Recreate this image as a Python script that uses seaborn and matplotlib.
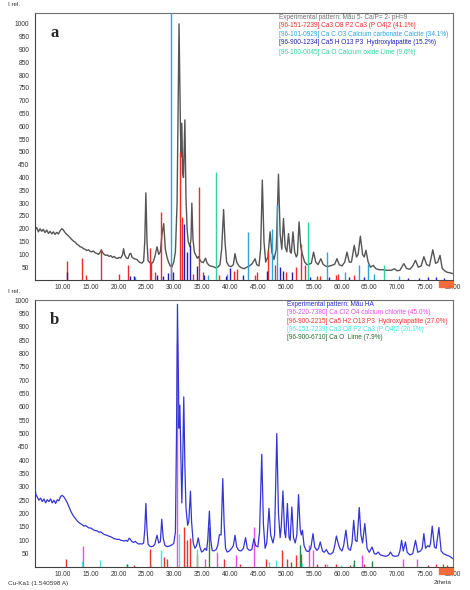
import numpy as np
import pandas as pd
import seaborn as sns
import matplotlib.pyplot as plt
from matplotlib.patches import Rectangle

# ---- panel a : experimental pattern (Mau 5) ----
tt_a = [5.0, 5.3, 5.6, 5.9, 6.2, 6.5, 6.8, 7.1, 7.4, 7.7, 8.0, 8.3, 8.6, 8.9, 9.2, 9.5, 9.8, 10.1, 10.4, 10.7,
        11.0, 11.3, 11.6, 11.9, 12.2, 12.5, 12.8, 13.1, 13.4, 13.7, 14.0, 14.3, 14.6, 14.9, 15.2, 15.5, 15.8, 16.1,
        16.4, 16.7, 16.9, 17.1, 17.4, 17.7, 18.0, 18.3, 18.6, 18.9, 19.2, 19.5, 19.8, 20.1, 20.4, 20.7, 20.9, 21.1,
        21.4, 21.7, 22.0, 22.2, 22.4, 22.7, 23.0, 23.3, 23.6, 23.9, 24.2, 24.5, 24.7, 24.9, 25.1, 25.3, 25.6, 25.9,
        26.2, 26.5, 26.9, 27.2, 27.5, 27.8, 28.1, 28.4, 28.7, 29.0, 29.3, 29.6, 29.9, 30.2, 30.5, 30.7, 30.85, 31.0,
        31.1, 31.2, 31.35, 31.5, 31.65, 31.9, 32.1, 32.3, 32.5, 32.8, 33.0, 33.15, 33.35, 33.6, 33.9, 34.1, 34.35,
        34.6, 34.9, 35.2, 35.6, 35.9, 36.2, 36.6, 37.0, 37.4, 37.8, 38.2, 38.5, 38.85, 39.1, 39.4, 39.8, 40.2, 40.6,
        40.9, 41.2, 41.6, 42.0, 42.5, 43.0, 43.5, 43.9, 44.3, 44.5, 44.8, 45.2, 45.5, 45.8, 46.1, 46.4, 46.8, 47.2,
        47.5, 47.9, 48.3, 48.7, 49.0, 49.3, 49.6, 49.9, 50.2, 50.5, 50.8, 51.0, 51.3, 51.6, 51.9, 52.1, 52.4, 52.7,
        53.0, 53.4, 53.8, 54.2, 54.6, 55.0, 55.4, 55.8, 56.3, 56.7, 57.1, 57.5, 57.9, 58.4, 58.8, 59.2, 59.6, 60.1,
        60.6, 61.0, 61.4, 61.8, 62.3, 62.7, 63.0, 63.4, 63.8, 64.1, 64.4, 64.8, 65.2, 65.7, 66.2, 66.8, 67.5, 68.2,
        69.0, 69.5, 70.0, 70.5, 71.2, 71.7, 72.3, 72.8, 73.3, 73.8, 74.3, 74.8, 75.3, 75.8, 76.4, 76.9, 77.3, 77.7,
        78.1, 78.6, 79.0, 79.5, 80.0]
int_a = [195, 205, 188, 200, 190, 198, 185, 195, 182, 190, 180, 188, 178, 186, 180, 192, 200, 195, 185, 178,
         172, 165, 158, 152, 148, 140, 136, 130, 128, 122, 120, 115, 118, 112, 110, 113, 106, 104,
         100, 108, 118, 108, 100, 96, 98, 92, 95, 88, 92, 86, 84, 88, 86, 98, 122, 98,
         86, 84, 102, 104, 90, 84, 82, 80, 72, 68, 66, 74, 150, 340, 150, 75, 68, 64,
         70, 90, 130, 100, 110, 180, 220, 120, 88, 68, 54, 52, 70, 110, 300, 700, 1000, 760,
         600, 480, 612, 420, 400, 625, 320, 200, 150, 130, 160, 300, 160, 110, 95, 85, 92,
         78, 70, 68, 85, 66, 58, 54, 52, 48, 50, 60, 120, 275, 150, 70, 55, 52, 60,
         103, 70, 55, 48, 44, 50, 55, 62, 75, 83, 60, 55, 120, 390, 150, 70, 90, 188,
         110, 80, 120, 413, 180, 120, 240, 130, 110, 181, 110, 105, 188, 110, 90, 100, 227, 130,
         100, 70, 60, 62, 65, 109, 70, 60, 83, 62, 55, 52, 55, 58, 62, 83, 60, 55,
         70, 109, 70, 70, 135, 90, 100, 171, 100, 90, 116, 70, 50, 57, 44, 40, 40, 38,
         38, 44, 36, 38, 64, 45, 42, 55, 77, 50, 55, 91, 60, 55, 118, 65, 70, 96,
         45, 35, 30, 28, 25]

# panel a reference sticks
red_a_pos = [10.8, 13.5, 14.1, 16.9, 20.1, 21.7, 25.6, 25.9, 26.5, 27.7, 29.4, 31.0, 31.3, 33.4, 34.4, 35.1,
             38.0, 40.8, 41.2, 44.5, 44.8, 46.9, 48.0, 50.0, 51.9, 52.8, 53.4, 55.6, 56.2, 59.1, 59.4, 62.2]
red_a_int = [73, 86, 20, 116, 23, 57, 125, 72, 33, 266, 61, 500, 246, 25, 363, 31,
             20, 36, 44, 20, 31, 116, 57, 30, 50, 142, 57, 15, 15, 20, 25, 20]
cyan_a_pos = [23.0, 29.4, 36.0, 39.4, 43.3, 47.6, 48.5, 57.5, 60.7, 63.1, 64.7, 65.9, 70.3]
cyan_a_int = [12, 1045, 20, 25, 188, 198, 292, 109, 31, 57, 64, 25, 15]
blue_a_pos = [10.8, 22.0, 22.7, 26.9, 28.0, 28.9, 29.7, 31.75, 32.2, 32.9, 34.0, 35.4, 39.2, 40.0, 42.4,
              46.7, 48.9, 49.6, 51.2, 54.4, 57.8, 61.4, 64.0, 72.0, 74.0, 75.5, 77.0, 78.5]
blue_a_int = [31, 14, 14, 20, 14, 27, 30, 220, 110, 135, 55, 18, 14, 46, 20,
              36, 49, 36, 30, 12, 10, 10, 10, 8, 8, 10, 10, 8]
teal_a_pos = [37.4, 54.0, 67.6]
teal_a_int = [422, 227, 57]

# ---- panel b : experimental pattern (Mau HA) ----
tt_b = [5.0, 5.15, 5.4, 5.7, 6.0, 6.3, 6.6, 6.9, 7.2, 7.5, 7.8, 8.1, 8.4, 8.7, 9.0, 9.3, 9.6, 9.9, 10.2, 10.5,
        10.8, 11.1, 11.4, 11.7, 12.0, 12.3, 12.6, 12.9, 13.2, 13.5, 13.8, 14.1, 14.4, 14.7, 15.0, 15.3, 15.6, 15.9,
        16.2, 16.5, 16.8, 17.1, 17.4, 17.7, 18.0, 18.3, 18.6, 18.9, 19.2, 19.5, 19.8, 20.1, 20.4, 20.7, 21.0, 21.3,
        21.6, 21.9, 22.1, 22.4, 22.7, 23.0, 23.3, 23.6, 23.9, 24.2, 24.5, 24.7, 24.9, 25.1, 25.3, 25.6, 25.9, 26.2,
        26.5, 26.9, 27.2, 27.5, 27.75, 28.0, 28.3, 28.7, 29.1, 29.5, 29.9, 30.2, 30.4, 30.57, 30.75, 30.85, 31.0,
        31.2, 31.35, 31.5, 31.7, 31.9, 32.1, 32.4, 32.6, 32.9, 33.1, 33.4, 33.7, 34.0, 34.3, 34.6, 34.9, 35.2, 35.5,
        35.8, 36.0, 36.3, 36.55, 36.8, 37.1, 37.5, 37.8, 38.1, 38.4, 38.7, 38.95, 39.2, 39.5, 39.9, 40.3, 40.6,
        40.9, 41.2, 41.6, 42.0, 42.4, 42.8, 43.1, 43.5, 43.9, 44.3, 44.6, 45.0, 45.3, 45.7, 46.0, 46.3, 46.6, 47.0,
        47.3, 47.7, 48.0, 48.4, 48.7, 49.0, 49.2, 49.5, 49.8, 50.0, 50.3, 50.6, 50.8, 51.1, 51.4, 51.7, 52.0, 52.3,
        52.6, 52.8, 53.0, 53.3, 53.7, 54.1, 54.5, 54.9, 55.2, 55.6, 55.9, 56.2, 56.6, 56.9, 57.3, 57.7, 58.1, 58.5,
        58.8, 59.1, 59.4, 59.7, 60.1, 60.4, 60.8, 61.2, 61.6, 61.9, 62.2, 62.5, 62.8, 63.2, 63.5, 63.8, 64.2, 64.6,
        65.0, 65.5, 65.9, 66.2, 66.6, 67.0, 67.5, 68.0, 68.5, 68.8, 69.2, 69.7, 70.2, 70.5, 70.8, 71.1, 71.5, 71.8,
        72.3, 72.8, 73.3, 73.7, 74.2, 74.5, 74.8, 75.1, 75.5, 75.8, 76.0, 76.3, 76.7, 77.0, 77.5, 77.9, 78.3, 78.8,
        79.2, 79.6, 80.0]
int_b = [300, 272, 262, 250, 258, 245, 255, 240, 252, 245, 255, 240, 250, 238, 252, 248, 265, 268, 262, 252,
         240, 225, 210, 198, 188, 180, 172, 166, 162, 158, 153, 155, 150, 146, 146, 142, 138, 136,
         135, 130, 132, 126, 122, 120, 118, 115, 113, 110, 106, 105, 103, 104, 100, 99, 97, 100,
         96, 108, 104, 95, 92, 96, 90, 86, 87, 86, 90, 140, 238, 140, 85, 78, 76, 78,
         85, 119, 90, 95, 179, 110, 82, 76, 78, 82, 88, 130, 500, 984, 700, 520, 606,
         400, 240, 380, 637, 380, 220, 156, 170, 284, 170, 90, 70, 80, 109, 75, 56, 60, 70,
         62, 100, 209, 100, 62, 60, 65, 80, 121, 120, 331, 160, 70, 56, 60, 70, 80,
         119, 75, 62, 60, 70, 110, 70, 62, 65, 106, 80, 75, 130, 422, 160, 70, 90, 220,
         120, 90, 120, 500, 200, 110, 150, 285, 130, 110, 238, 110, 100, 225, 110, 90, 120, 271,
         140, 120, 138, 80, 60, 58, 70, 125, 75, 62, 70, 94, 60, 55, 65, 50, 48, 55,
         80, 116, 90, 70, 60, 80, 138, 70, 62, 90, 175, 100, 95, 223, 120, 90, 163, 70,
         55, 75, 50, 48, 56, 45, 42, 40, 45, 56, 42, 40, 42, 60, 100, 60, 94, 55,
         45, 50, 100, 55, 60, 70, 125, 70, 80, 75, 90, 153, 75, 70, 148, 60, 50, 45,
         42, 38, 31]

# panel b reference sticks
mag_b_pos = [13.7, 30.4, 35.5, 37.6, 41.0, 44.3, 54.1, 54.9, 63.7, 71.1, 73.5]
mag_b_int = [78, 840, 30, 56, 44, 148, 81, 62, 44, 31, 31]
red_b_pos = [10.6, 22.7, 25.6, 28.2, 28.7, 31.8, 32.2, 32.9, 34.1, 39.0, 41.8, 46.5, 49.3, 50.2, 51.9, 52.7,
             55.7, 57.0, 59.0, 61.6, 64.0, 75.5, 77.0, 78.2, 79.0]
red_b_int = [31, 6, 69, 38, 30, 150, 100, 110, 50, 30, 12, 30, 62, 31, 44, 48,
             10, 10, 10, 8, 12, 8, 10, 10, 8]
cyan_b_pos = [13.4, 16.7, 21.6, 25.9, 27.6, 30.8, 34.0, 47.0, 48.2, 53.0, 57.5, 60.0, 62.0]
cyan_b_int = [21, 25, 10, 12, 65, 125, 67, 19, 25, 15, 10, 8, 10]
green_b_pos = [21.6, 36.3, 51.0, 52.5, 62.3, 65.5]
green_b_int = [12, 150, 19, 81, 25, 22]

legend_a = ["Experimental pattern: Mẫu 5- Ca/P= 2- pH=9",
            "[96-151-7239] Ca3 O8 P2 Ca3 (P O4)2 (41.1%)",
            "[96-101-0929] Ca C O3 Calcium carbonate Calcite (34.1%)",
            "[96-900-1234] Ca5 H O13 P3  Hydroxylapatite (15.2%)",
            "[96-100-0045] Ca O Calcium oxide Lime (9.6%)"]
legend_b = ["Experimental pattern: Mẫu HA",
            "[96-220-7380] Ca Cl2 O4 calcium chlorite (45.0%)",
            "[96-900-2215] Ca5 H2 O13 P3  Hydroxylapatite (27.0%)",
            "[96-151-7239] Ca3 O8 P2 Ca3 (P O4)2 (20.1%)",
            "[96-900-6710] Ca O  Lime (7.9%)"]

sns.set_style("white")
plt.rcParams['font.family'] = ['Liberation Sans', 'DejaVu Sans']

fig = plt.figure(figsize=(4.7, 5.9), dpi=100)
ax_a = fig.add_axes([0.0745, 0.5254, 0.889, 0.4525])
ax_b = fig.add_axes([0.0745, 0.0390, 0.889, 0.4525])


def style_axes(ax, ytop):
    ax.set_xlim(5, 80)
    ax.set_ylim(0, ytop)
    ax.set_xticks(np.arange(10, 81, 5))
    ax.set_xticklabels([f"{v:.2f}" for v in np.arange(10, 81, 5)])
    ax.set_yticks(np.arange(50, 1001, 50))
    ax.set_yticklabels([str(v) for v in np.arange(50, 1001, 50)])
    ax.tick_params(axis='both', direction='out', length=2.5, width=0.5,
                   labelsize=4.8, colors='#333333', pad=1.5)
    ax.tick_params(axis='x', length=0, pad=3)
    for s in ax.spines.values():
        s.set_color('#707070')
        s.set_linewidth(0.8)
    ax.spines['left'].set_color('#404040')
    ax.spines['bottom'].set_color('#404040')
    ax.set_xlabel('')
    ax.set_ylabel('')
    ax.text(-0.065, 1.025, "I rel.", transform=ax.transAxes, fontsize=4.5, color='#333333')
    # orange scroll marker below the axis end
    ax.add_patch(Rectangle((77.6, -0.028), 2.5, 0.024, transform=ax.get_xaxis_transform(),
                           color='#f26b3a', clip_on=False, zorder=5))


# panel a
df_a = pd.DataFrame({'tt': tt_a, 'I': int_a})
sns.lineplot(data=df_a, x='tt', y='I', ax=ax_a, color='#555555', linewidth=1.0,
             estimator=None, zorder=2)
ax_a.vlines(red_a_pos, 0, red_a_int, color='#ee2a2a', linewidth=1.0, zorder=3)
ax_a.vlines(cyan_a_pos, 0, cyan_a_int, color='#2ea3dc', linewidth=1.0, zorder=3)
ax_a.vlines(blue_a_pos, 0, blue_a_int, color='#2020b8', linewidth=1.0, zorder=3)
ax_a.vlines(teal_a_pos, 0, teal_a_int, color='#2fd3a0', linewidth=1.0, zorder=3)
style_axes(ax_a, 1042)
ax_a.text(0.036, 0.925, "a", transform=ax_a.transAxes, fontsize=12, fontweight='bold',
          family='Liberation Serif', va='center')
cols_a = ['#707070', '#ee2a2a', '#2ea3dc', '#2020b8', '#2fd3a0']
rows_a = [0.985, 0.955, 0.921, 0.888, 0.854]
for txt, c, yy in zip(legend_a, cols_a, rows_a):
    ax_a.text(0.584, yy, txt, transform=ax_a.transAxes, fontsize=4.7, color=c, va='center')

# panel b
df_b = pd.DataFrame({'tt': tt_b, 'I': int_b})
sns.lineplot(data=df_b, x='tt', y='I', ax=ax_b, color='#3535d4', linewidth=0.9,
             estimator=None, zorder=3)
ax_b.vlines(mag_b_pos, 0, mag_b_int, color='#e64ee6', linewidth=1.0, zorder=2)
ax_b.vlines(red_b_pos, 0, red_b_int, color='#ee3030', linewidth=1.0, zorder=2)
ax_b.vlines(cyan_b_pos, 0, cyan_b_int, color='#3ee6e6', linewidth=1.0, zorder=2)
ax_b.vlines(green_b_pos, 0, green_b_int, color='#1f8a3a', linewidth=1.0, zorder=2)
style_axes(ax_b, 1000)
ax_b.text(0.036, 0.925, "b", transform=ax_b.transAxes, fontsize=12, fontweight='bold',
          family='Liberation Serif', va='center')
cols_b = ['#2a2ad0', '#e64ee6', '#ee3030', '#3ee6e6', '#1f6a2a']
rows_b = [0.985, 0.952, 0.921, 0.890, 0.859]
for txt, c, yy in zip(legend_b, cols_b, rows_b):
    ax_b.text(0.603, yy, txt, transform=ax_b.transAxes, fontsize=4.7, color=c, va='center')

fig.text(8 / 470, 1 - 583 / 590, "Cu-Ka1 (1.540598 A)", fontsize=4.6, color='#333333', va='center')
fig.text(434 / 470, 1 - 583 / 590, "2theta", fontsize=4.6, color='#333333', va='center')

fig.savefig('out.png', dpi=100)
